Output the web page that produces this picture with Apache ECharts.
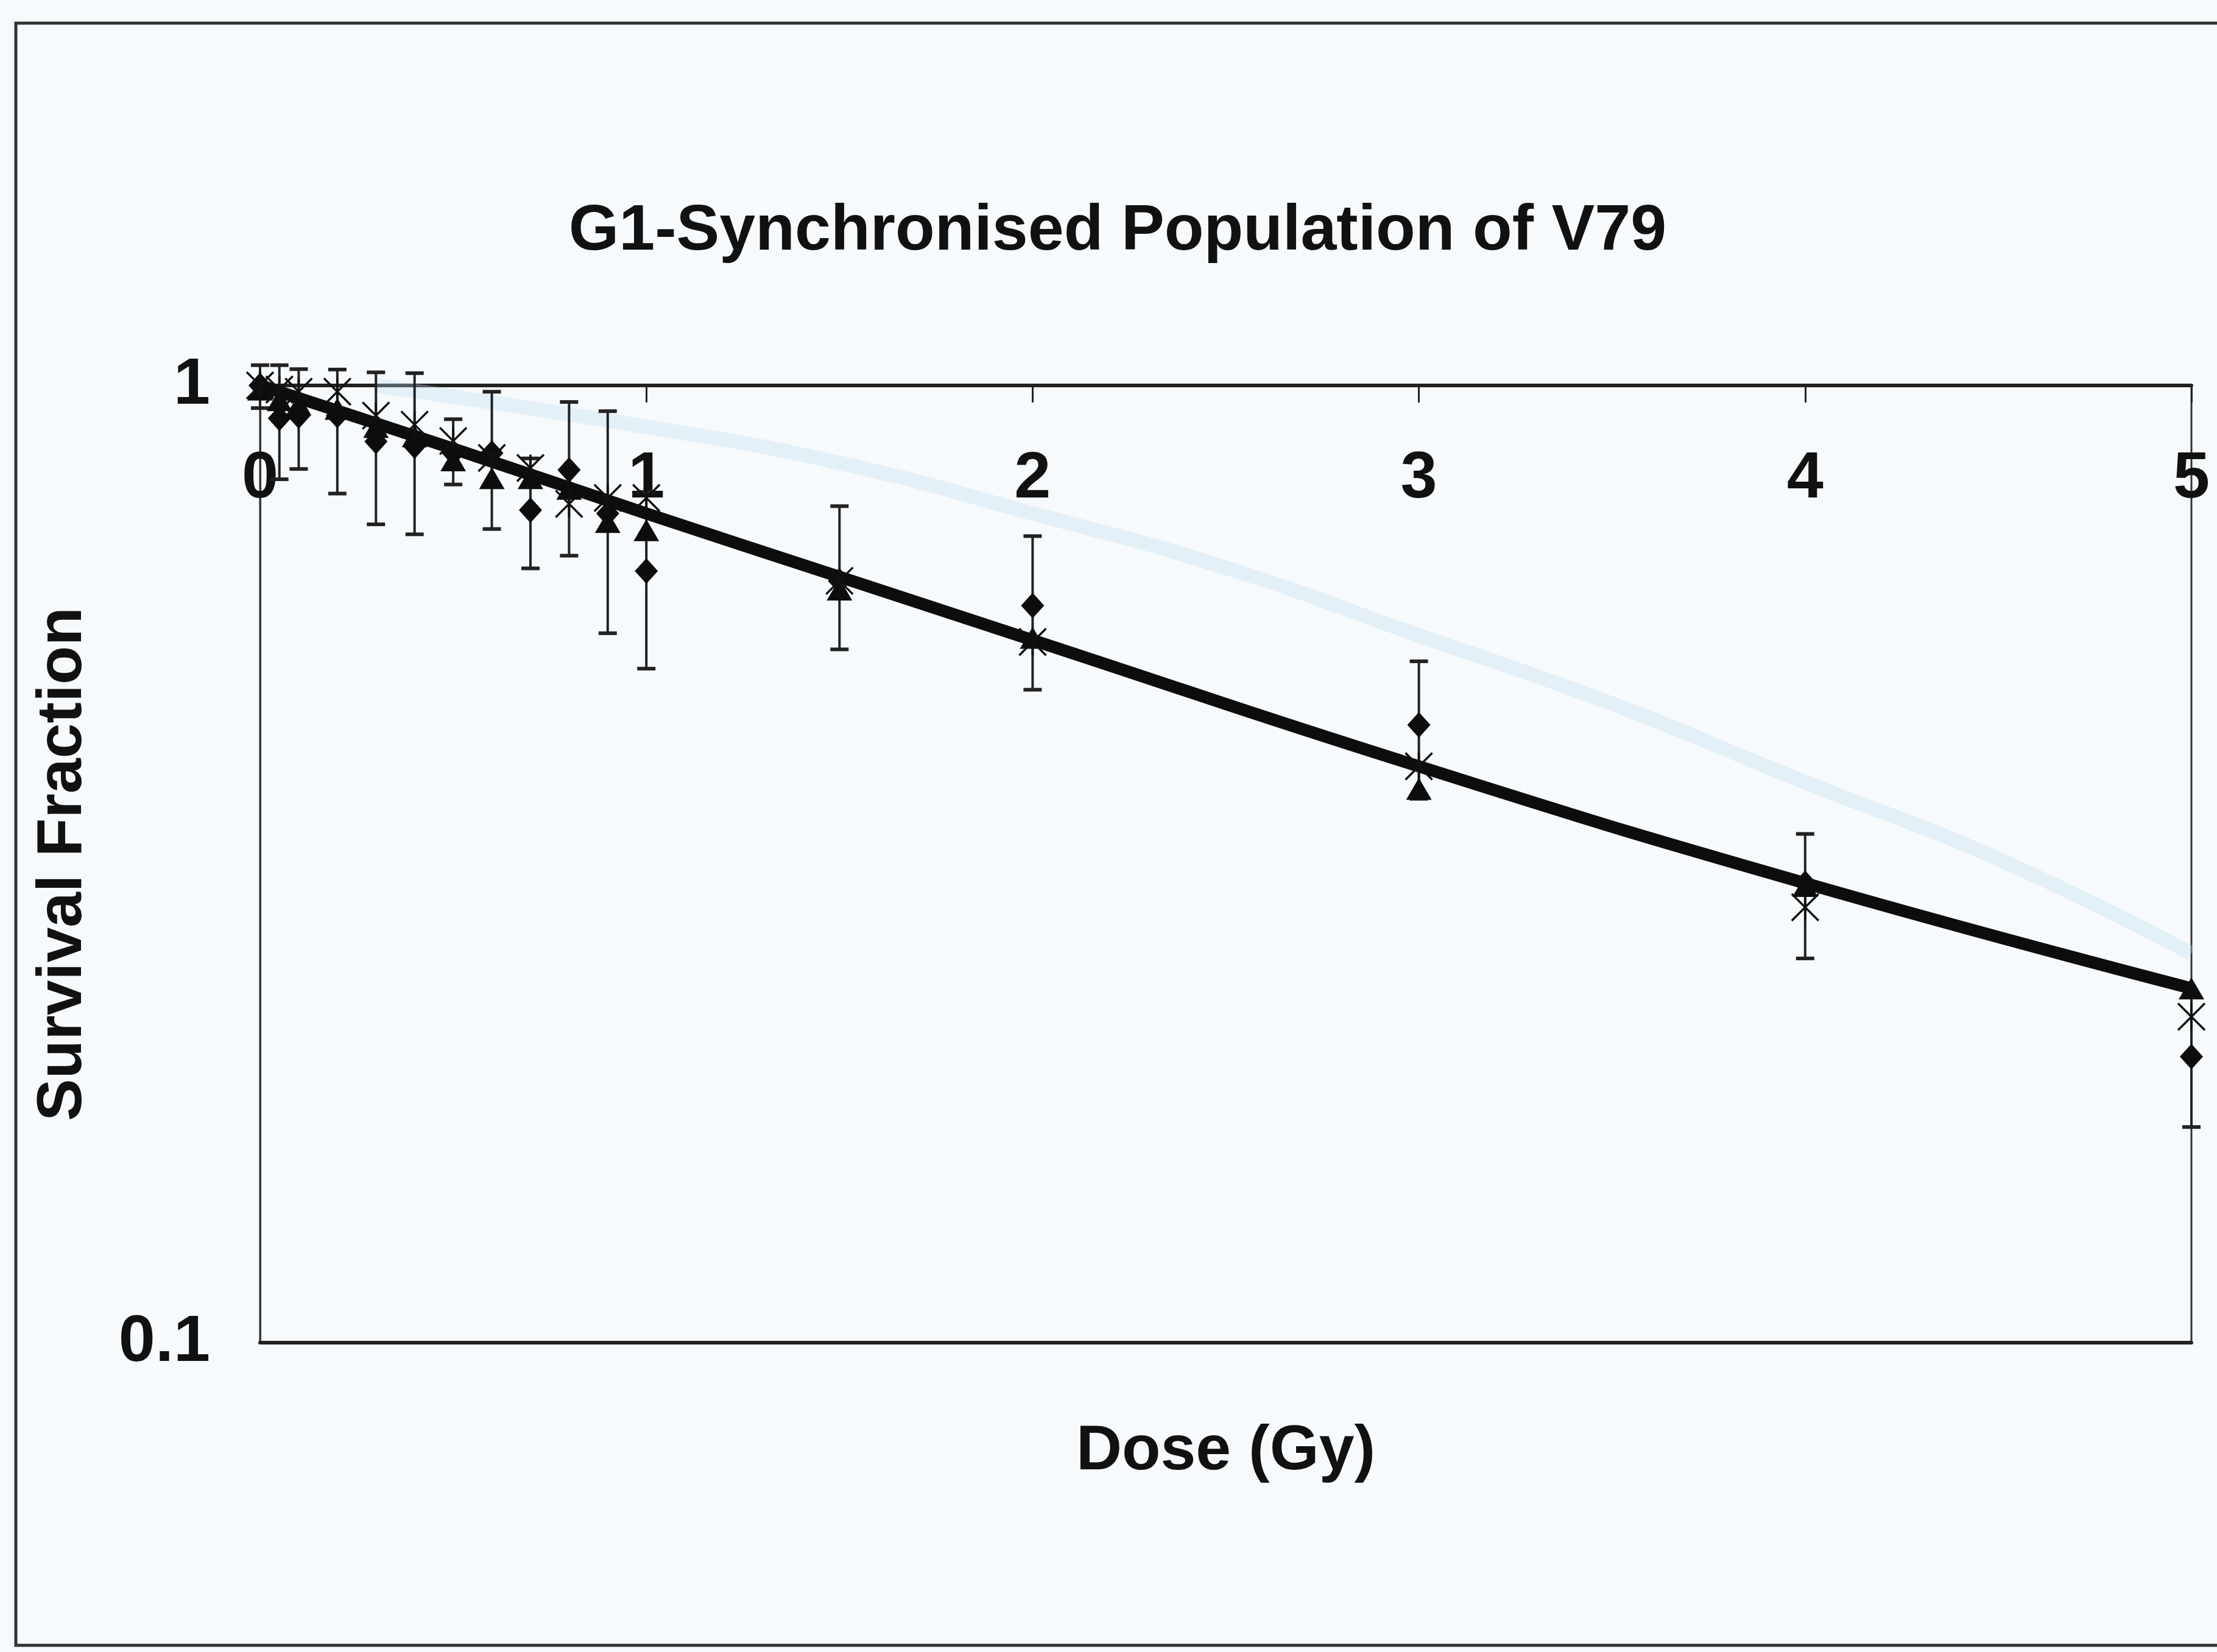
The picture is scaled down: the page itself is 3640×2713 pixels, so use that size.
<!DOCTYPE html>
<html>
<head>
<meta charset="utf-8">
<script src="https://cdn.jsdelivr.net/npm/echarts@6/dist/echarts.min.js"></script>
<style>
  html, body { margin: 0; padding: 0; background: #f7fafc; }
  #chart { width: 3640px; height: 2713px; }
</style>
</head>
<body>
<div id="chart"></div>
<script>
// doses (Gy) where survival was measured
var doses = [0, 0.05, 0.1, 0.2, 0.3, 0.4, 0.5, 0.6, 0.7, 0.8, 0.9, 1.0, 1.5, 2, 3, 4, 5];

// diamond series, with error bars
var diamondSF = [1.0, 0.924, 0.929, 0.93, 0.874, 0.864, 0.85, 0.85, 0.741, 0.816, 0.735, 0.640, 0.625, 0.589, 0.442, 0.302, 0.199];
var errHigh = [1.05, 1.05, 1.04, 1.039, 1.032, 1.030, 0.922, 0.985, 0.839, 0.961, 0.940, 0.774, 0.748, 0.696, 0.515, 0.340, 0.230];
var errLow = [0.947, 0.798, 0.818, 0.771, 0.716, 0.699, 0.788, 0.708, 0.644, 0.664, 0.551, 0.506, 0.530, 0.481, 0.370, 0.252, 0.168];

// triangle series
var triangleSF = [0.99, 0.965, 0.955, 0.945, 0.905, 0.885, 0.835, 0.80, 0.80, 0.78, 0.72, 0.706, 0.612, 0.545, 0.379, 0.30, 0.2345];

// cross (asterisk) series
var crossSF = [1.0, 0.99, 0.985, 0.985, 0.93, 0.91, 0.875, 0.84, 0.82, 0.752, 0.763, 0.763, 0.625, 0.5395, 0.40, 0.285, 0.219];

// thick fitted curve
var fitDose = [0, 0.5, 1, 1.5, 2, 3, 4, 5];
var fitSF = [1.0, 0.859, 0.735, 0.631, 0.542, 0.400, 0.302, 0.2345];

// faint show-through curve visible on the scan
var ghostDose = [0.3, 1, 1.5, 2, 2.5, 3, 3.5, 4, 4.5, 5];
var ghostSF = [1.0, 0.905, 0.83, 0.735, 0.645, 0.548, 0.465, 0.385, 0.32, 0.255];

var xTicks = [0, 1, 2, 3, 4, 5];

var chart = echarts.init(document.getElementById('chart'));
var font = "'Liberation Sans', Arial, sans-serif";

function pairs(xs, ys) {
    return xs.map(function (x, i) { return [x, ys[i]]; });
}

var errData = doses.map(function (d, i) { return [d, errLow[i], errHigh[i]]; });

function renderErr(params, api) {
    var x = api.value(0);
    var top = api.coord([x, api.value(2)]);
    var bot = api.coord([x, api.value(1)]);
    var cap = 15;
    var st = { stroke: '#222', lineWidth: 4 };
    return {
        type: 'group',
        children: [
            { type: 'line', shape: { x1: top[0], y1: top[1], x2: bot[0], y2: bot[1] }, style: st },
            { type: 'line', shape: { x1: top[0] - cap, y1: top[1], x2: top[0] + cap, y2: top[1] }, style: { stroke: '#222', lineWidth: 6 } },
            { type: 'line', shape: { x1: bot[0] - cap, y1: bot[1], x2: bot[0] + cap, y2: bot[1] }, style: { stroke: '#222', lineWidth: 6 } }
        ]
    };
}

var option = {
    backgroundColor: '#f7fafc',
    animation: false,
    title: {
        text: 'G1-Synchronised Population of V79',
        left: 1830,
        top: 323,
        textAlign: 'center',
        textStyle: { fontSize: 106, fontWeight: 'bold', fontFamily: font, color: '#111' }
    },
    graphic: [{
        type: 'rect',
        shape: { x: 26, y: 38, width: 3700, height: 2664 },
        style: { fill: 'none', stroke: '#333', lineWidth: 5 },
        z: -1
    }],
    grid: {
        left: 427, top: 633, width: 3171, height: 1572,
        show: true, borderColor: '#333', borderWidth: 3, backgroundColor: 'transparent'
    },
    xAxis: [{
        type: 'value', position: 'top', min: 0, max: 5, interval: 1,
        axisLine: { show: true, onZero: false, lineStyle: { color: '#222', width: 6 } },
        axisTick: { show: true, inside: true, length: 28, lineStyle: { color: '#222', width: 3 } },
        axisLabel: {
            inside: true, margin: 100, fontSize: 108, fontWeight: 'bold', fontFamily: font, color: '#111',
            formatter: function (v) { return xTicks.indexOf(v) >= 0 ? String(v) : ''; }
        },
        splitLine: { show: false }
    }, {
        type: 'value', position: 'bottom', min: 0, max: 5, interval: 1,
        axisLine: { show: true, onZero: false, lineStyle: { color: '#222', width: 6 } },
        axisTick: { show: false },
        axisLabel: { show: false },
        splitLine: { show: false },
        name: 'Dose (Gy)', nameLocation: 'middle', nameGap: 127,
        nameTextStyle: { fontSize: 104, fontWeight: 'bold', fontFamily: font, color: '#111' }
    }],
    yAxis: {
        type: 'log', logBase: 10, min: 0.1, max: 1,
        axisLine: { show: true, onZero: false, lineStyle: { color: '#333', width: 3 } },
        axisTick: { show: false },
        axisLabel: { margin: 82, fontSize: 108, fontWeight: 'bold', fontFamily: font, color: '#111' },
        splitLine: { show: false },
        name: 'Survival Fraction', nameLocation: 'middle', nameGap: 271, nameRotate: 90,
        nameTextStyle: { fontSize: 104, fontWeight: 'bold', fontFamily: font, color: '#111' }
    },
    series: [{
        name: 'ghost', type: 'line', xAxisIndex: 0, smooth: true, symbol: 'none', z: 1,
        lineStyle: { color: 'rgba(190,220,240,0.32)', width: 24 },
        data: pairs(ghostDose, ghostSF)
    }, {
        name: 'error', type: 'custom', xAxisIndex: 0, z: 2, clip: false,
        renderItem: renderErr,
        encode: { x: 0, y: [1, 2] },
        data: errData
    }, {
        name: 'fit', type: 'line', xAxisIndex: 0, smooth: true, symbol: 'none', z: 3,
        lineStyle: { color: '#0d0d0d', width: 20 },
        data: pairs(fitDose, fitSF)
    }, {
        name: 'diamond', type: 'scatter', xAxisIndex: 0, z: 4, clip: false,
        symbol: 'diamond', symbolSize: [38, 42],
        itemStyle: { color: '#0d0d0d', opacity: 1 },
        data: pairs(doses, diamondSF)
    }, {
        name: 'triangle', type: 'scatter', xAxisIndex: 0, z: 4, clip: false,
        symbol: 'triangle', symbolSize: [42, 36],
        itemStyle: { color: '#0d0d0d', opacity: 1 },
        data: pairs(doses, triangleSF)
    }, {
        name: 'cross', type: 'scatter', xAxisIndex: 0, z: 4, clip: false,
        symbol: 'path://M0,0L10,10M10,0L0,10M5,0L5,10', symbolSize: 44,
        itemStyle: { color: 'none', borderColor: '#111', borderWidth: 3.5, opacity: 1 },
        data: pairs(doses, crossSF)
    }]
};

chart.setOption(option);
</script>
</body>
</html>
